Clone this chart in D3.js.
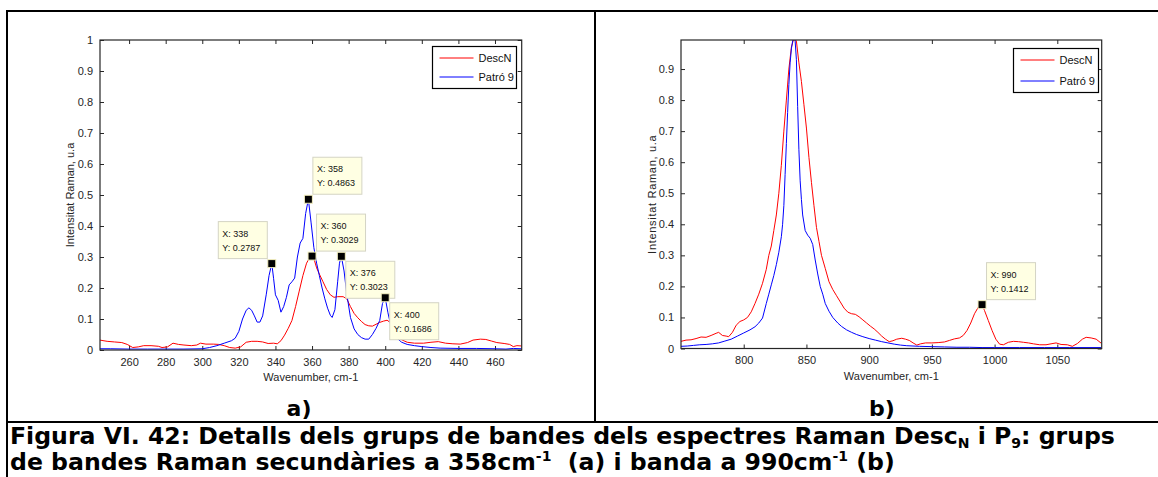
<!DOCTYPE html>
<html>
<head>
<meta charset="utf-8">
<script src="https://cdn.jsdelivr.net/npm/d3@7"></script>
<style>
  html, body { margin: 0; padding: 0; background: #fff; }
  svg { display: block; }
  .tick text { font-family: "Liberation Sans", Arial, sans-serif; font-size: 11px; fill: #262626; }
  .axlabel { font-family: "Liberation Sans", Arial, sans-serif; font-size: 11px; fill: #262626; }
  .legend text { font-family: "Liberation Sans", Arial, sans-serif; font-size: 11px; fill: #111; }
  .tip text { font-family: "Liberation Sans", Arial, sans-serif; font-size: 9px; fill: #111; }
  .panel-tag, .caption { font-family: "DejaVu Sans", Verdana, sans-serif; font-weight: bold; fill: #000; }
</style>
</head>
<body>
<svg id="fig" width="1158" height="477"></svg>
<script>
// ---- Spectra, panel a) : [wavenumber (cm-1), normalised intensity] ----
const descN_a = [
  [244,0.032],[248,0.028],[252,0.026],[256,0.024],[259,0.018],[262,0.008],[265,0.010],
  [268,0.014],[272,0.014],[276,0.012],[278,0.008],[281,0.010],[284,0.022],[287,0.018],
  [290,0.016],[294,0.014],[297,0.016],[299,0.022],[302,0.019],[306,0.019],[309,0.018],
  [312,0.014],[315,0.008],[318,0.006],[321,0.010],[324,0.025],[327,0.028],[330,0.028],
  [333,0.026],[336,0.021],[339,0.022],[341,0.020],[343,0.030],[345,0.048],[347,0.070],
  [349,0.095],[351,0.140],[353,0.190],[355,0.240],[357,0.280],[358.5,0.296],[360,0.3029],
  [361,0.295],[362.5,0.265],[364,0.245],[366,0.220],[368,0.195],[370,0.178],[372,0.170],
  [374,0.172],[377,0.172],[379,0.165],[381,0.140],[383,0.118],[385,0.104],[387,0.092],
  [389,0.082],[391,0.078],[393,0.077],[395,0.083],[397,0.089],[399,0.093],[401,0.096],
  [403,0.088],[405,0.060],[407,0.042],[409,0.033],[412,0.025],[416,0.022],[421,0.022],
  [425,0.025],[429,0.027],[433,0.022],[437,0.020],[441,0.019],[445,0.024],[448,0.032],
  [452,0.035],[455,0.034],[458,0.029],[461,0.024],[465,0.021],[468,0.018],[470,0.011],
  [472,0.014],[474.6,0.013]
];
const patro9_a = [
  [244,0.004],[250,0.004],[260,0.003],[270,0.003],[280,0.003],[290,0.003],[300,0.004],
  [304,0.008],[308,0.014],[312,0.022],[316,0.030],[318,0.038],[320,0.060],[322,0.100],
  [324,0.128],[325.5,0.136],[327,0.128],[328.5,0.110],[330,0.090],[331.5,0.090],[333,0.110],
  [335,0.180],[336.5,0.240],[338,0.2787],[339,0.230],[340,0.178],[341.5,0.160],[343,0.122],
  [344.5,0.140],[346,0.170],[347.5,0.210],[349,0.220],[350.5,0.232],[352,0.300],[353.5,0.345],
  [355,0.360],[356.5,0.440],[358,0.4863],[359.5,0.410],[361,0.330],[362.5,0.280],[364,0.240],
  [365.5,0.200],[367,0.165],[368.5,0.135],[370,0.112],[371,0.105],[372.5,0.130],[374,0.220],
  [375,0.280],[376,0.3023],[377.5,0.255],[379,0.180],[381,0.105],[383,0.068],[385,0.050],
  [387,0.040],[389,0.035],[391,0.035],[393,0.050],[395,0.070],[397,0.095],[398.5,0.150],
  [400,0.1686],[401.5,0.120],[403,0.080],[405,0.050],[407,0.035],[409,0.025],[412,0.018],
  [416,0.014],[420,0.011],[425,0.008],[430,0.006],[440,0.005],[450,0.005],[460,0.004],
  [466,0.003],[470,0.005],[474.6,0.004]
];

// ---- Spectra, panel b) ----
const descN_b = [
  [750,0.023],[754,0.027],[758,0.028],[762,0.032],[766,0.037],[770,0.036],[774,0.042],
  [778,0.049],[780,0.052],[783,0.042],[786,0.040],[788,0.038],[791,0.052],[794,0.075],
  [797,0.087],[800,0.092],[803,0.100],[806,0.118],[809,0.145],[812,0.175],[815,0.210],
  [818,0.255],[820,0.300],[822,0.330],[824,0.380],[826,0.430],[828,0.500],[830,0.590],
  [832,0.700],[834,0.800],[836,0.900],[838,0.970],[840,1.000],[842,0.990],[844,0.920],
  [846,0.860],[848,0.785],[850,0.710],[852,0.615],[854,0.535],[856,0.460],[858,0.390],
  [860,0.345],[862,0.300],[865,0.258],[868,0.215],[871,0.190],[874,0.170],[877,0.150],
  [880,0.130],[883,0.117],[886,0.112],[889,0.110],[892,0.102],[895,0.092],[898,0.082],
  [901,0.072],[904,0.063],[907,0.052],[910,0.040],[913,0.030],[916,0.022],[919,0.025],
  [922,0.030],[926,0.033],[929,0.030],[932,0.026],[935,0.018],[938,0.011],[941,0.015],
  [945,0.018],[950,0.018],[955,0.019],[960,0.021],[964,0.026],[968,0.031],[972,0.034],
  [975,0.042],[978,0.058],[981,0.082],[984,0.112],[987,0.133],[990,0.1412],[992,0.122],
  [995,0.090],[998,0.058],[1001,0.030],[1004,0.014],[1007,0.012],[1011,0.020],[1015,0.023],
  [1019,0.022],[1023,0.020],[1027,0.018],[1031,0.015],[1036,0.012],[1041,0.012],[1045,0.015],
  [1049,0.018],[1053,0.013],[1058,0.012],[1062,0.007],[1066,0.016],[1070,0.030],[1073,0.036],
  [1077,0.034],[1081,0.030],[1085,0.017]
];
const patro9_b = [
  [750,0.007],[755,0.008],[760,0.010],[765,0.012],[770,0.013],[775,0.015],[780,0.018],
  [785,0.024],[790,0.030],[795,0.040],[800,0.050],[805,0.060],[809,0.070],[812,0.082],
  [815,0.098],[818,0.145],[820,0.175],[822,0.205],[824,0.235],[826,0.270],[828,0.310],
  [830,0.360],[831,0.400],[832,0.460],[833,0.560],[834,0.660],[835,0.760],[836,0.850],
  [837,0.920],[838,0.965],[839,0.990],[840,1.000],[841,0.990],[842,0.930],[843,0.780],
  [844,0.640],[845,0.540],[846,0.480],[847,0.430],[849,0.380],[851,0.365],[853,0.355],
  [855,0.335],[857,0.285],[859,0.240],[861,0.200],[863,0.175],[865,0.145],[868,0.120],
  [871,0.100],[875,0.082],[878,0.071],[882,0.060],[886,0.052],[890,0.045],[895,0.038],
  [900,0.032],[905,0.027],[910,0.022],[915,0.018],[920,0.014],[925,0.011],[930,0.009],
  [940,0.007],[950,0.006],[960,0.005],[970,0.004],[980,0.004],[990,0.003],[1000,0.003],
  [1020,0.003],[1040,0.003],[1060,0.003],[1085,0.003]
];

// ---- Axis ranges and tick values ----
const xDomainA = [244.1, 474.6];
const xDomainB = [750, 1085.4];
const yDomainA = [0, 1];
const yDomainB = [0, 0.9935];
const xTicksA = [260, 280, 300, 320, 340, 360, 380, 400, 420, 440, 460];
const xTicksB = [800, 850, 900, 950, 1000, 1050];
const yTicksA = [0, 0.1, 0.2, 0.3, 0.4, 0.5, 0.6, 0.7, 0.8, 0.9, 1];
const yTicksB = [0, 0.1, 0.2, 0.3, 0.4, 0.5, 0.6, 0.7, 0.8, 0.9];
const yTickLabelsA = ["0", "0.1", "0.2", "0.3", "0.4", "0.5", "0.6", "0.7", "0.8", "0.9", "1"];
const yTickLabelsB = ["0", "0.1", "0.2", "0.3", "0.4", "0.5", "0.6", "0.7", "0.8", "0.9"];

// ---- Series names and data-cursor readouts [wavenumber, intensity] ----
const seriesNames = ["DescN", "Patró 9"];
const seriesColors = ["#ff0000", "#0000ff"];
const tipsA = [[338, 0.2787], [358, 0.4863], [360, 0.3029], [376, 0.3023], [400, 0.1686]];
const tipsB = [[990, 0.1412]];

const xLabel = "Wavenumber, cm-1";
const yLabel = "Intensitat Raman, u.a";
const panelTags = ["a)", "b)"];

const svg = d3.select("#fig");
svg.append("rect").attr("width", 1158).attr("height", 477).attr("fill", "#fff");

// Panel layouts (pixel boxes for each axes)
const panels = [
  { left: 100, right: 521.7, top: 40, bottom: 350,
    xDomain: xDomainA, yDomain: yDomainA, xTicks: xTicksA, yTicks: yTicksA, yTickLabels: yTickLabelsA,
    series: [descN_a, patro9_a], tips: tipsA,
    tipPlace: ["ul", "ur", "ur", "dr", "dr"],
    legend: { x: 432.5, y: 46.5, w: 84, h: 42 }, ylabelX: 70, ylabelSpacing: 0,
    tag: panelTags[0], tagX: 299 },
  { left: 681, right: 1101.7, top: 40, bottom: 348.5,
    xDomain: xDomainB, yDomain: yDomainB, xTicks: xTicksB, yTicks: yTicksB, yTickLabels: yTickLabelsB,
    series: [descN_b, patro9_b], tips: tipsB,
    tipPlace: ["ur"],
    legend: { x: 1013.5, y: 48.5, w: 85, h: 44 }, ylabelX: 652, ylabelSpacing: 0.7,
    tag: panelTags[1], tagX: 882 }
];

panels.forEach((p, pi) => {
  const x = d3.scaleLinear().domain(p.xDomain).range([p.left, p.right]);
  const y = d3.scaleLinear().domain(p.yDomain).range([p.bottom, p.top]);
  const g = svg.append("g");

  const clipId = "clip" + pi;
  svg.append("clipPath").attr("id", clipId)
    .append("rect").attr("x", p.left).attr("y", p.top)
    .attr("width", p.right - p.left).attr("height", p.bottom - p.top);

  // Bottom axis with labels, ticks pointing inward
  const xb = g.append("g").attr("transform", `translate(0,${p.bottom})`)
    .call(d3.axisBottom(x).tickValues(p.xTicks).tickSizeInner(-4).tickSizeOuter(0).tickPadding(8)
      .tickFormat(d3.format("d")));
  xb.select(".domain").remove();
  // Top axis ticks (no labels)
  const xt = g.append("g").attr("transform", `translate(0,${p.top})`)
    .call(d3.axisTop(x).tickValues(p.xTicks).tickSizeInner(-4).tickSizeOuter(0).tickFormat(""));
  xt.select(".domain").remove();
  // Left axis with labels
  const yl = g.append("g").attr("transform", `translate(${p.left},0)`)
    .call(d3.axisLeft(y).tickValues(p.yTicks).tickSizeInner(-4).tickSizeOuter(0).tickPadding(7)
      .tickFormat((d, i) => p.yTickLabels[i]));
  yl.select(".domain").remove();
  // Right axis ticks (no labels)
  const yr = g.append("g").attr("transform", `translate(${p.right},0)`)
    .call(d3.axisRight(y).tickValues(p.yTicks).tickSizeInner(-4).tickSizeOuter(0).tickFormat(""));
  yr.select(".domain").remove();
  g.selectAll(".tick line").attr("stroke", "#262626");

  // Spectra
  const line = d3.line().x(d => x(d[0])).y(d => y(d[1]));
  p.series.forEach((s, si) => {
    g.append("path").datum(s)
      .attr("clip-path", `url(#${clipId})`)
      .attr("fill", "none").attr("stroke", seriesColors[si])
      .attr("stroke-width", 1).attr("stroke-linejoin", "round")
      .attr("d", line);
  });

  // Axes box
  g.append("rect").attr("x", p.left).attr("y", p.top)
    .attr("width", p.right - p.left).attr("height", p.bottom - p.top)
    .attr("fill", "none").attr("stroke", "#262626").attr("stroke-width", 1.2);

  // Axis labels
  g.append("text").attr("class", "axlabel")
    .attr("x", (p.left + p.right) / 2).attr("y", p.bottom + 31)
    .attr("text-anchor", "middle").text(xLabel);
  g.append("text").attr("class", "axlabel")
    .attr("transform", `translate(${p.ylabelX + 4},${(p.top + p.bottom) / 2}) rotate(-90)`)
    .attr("text-anchor", "middle").attr("letter-spacing", p.ylabelSpacing)
    .text(yLabel);

  // Legend
  const lg = g.append("g").attr("class", "legend");
  lg.append("rect").attr("x", p.legend.x).attr("y", p.legend.y)
    .attr("width", p.legend.w).attr("height", p.legend.h)
    .attr("fill", "#fff").attr("stroke", "#000").attr("stroke-width", 1.2);
  seriesNames.forEach((name, si) => {
    const ly = p.legend.y + 11.5 + si * (p.legend.h - 23) ;
    lg.append("line").attr("x1", p.legend.x + 7).attr("x2", p.legend.x + 41)
      .attr("y1", ly).attr("y2", ly).attr("stroke", seriesColors[si]).attr("stroke-width", 1);
    lg.append("text").attr("x", p.legend.x + 46).attr("y", ly + 4).text(name);
  });

  // Data-cursor readouts
  p.tips.forEach((t, ti) => {
    const mx = x(t[0]), my = y(t[1]);
    const place = p.tipPlace[ti];
    const bw = 49, bh = 37;
    const bx = place.endsWith("l") ? mx - 4.5 - bw : mx + 4.5;
    const by = place.startsWith("u") ? my - 5 - bh : my + 5;
    const tg = g.append("g").attr("class", "tip");
    tg.append("rect").attr("x", bx).attr("y", by).attr("width", bw).attr("height", bh)
      .attr("fill", "#ffffe3").attr("stroke", "#d4d4c4").attr("stroke-width", 1);
    tg.append("text").attr("x", bx + 4).attr("y", by + 15).text("X: " + t[0]);
    tg.append("text").attr("x", bx + 4).attr("y", by + 29).text("Y: " + t[1]);
    tg.append("rect").attr("x", mx - 4).attr("y", my - 4).attr("width", 8).attr("height", 8)
      .attr("fill", "#000").attr("stroke", "#f4f0c0").attr("stroke-width", 1);
  });

  // Panel tag
  svg.append("text").attr("class", "panel-tag").attr("x", p.tagX).attr("y", 416)
    .attr("text-anchor", "middle").attr("font-size", 22).text(p.tag);
});

// Figure frame
const frame = svg.append("g").attr("stroke", "#000").attr("stroke-width", 2).attr("fill", "none");
frame.append("line").attr("x1", 7).attr("x2", 1158).attr("y1", 11).attr("y2", 11);
frame.append("line").attr("x1", 7).attr("x2", 7).attr("y1", 10).attr("y2", 477);
frame.append("line").attr("x1", 595).attr("x2", 595).attr("y1", 11).attr("y2", 422);
frame.append("line").attr("x1", 7).attr("x2", 1158).attr("y1", 422).attr("y2", 422);

// Caption
const capSize = 23.6;
const subSize = 14;
const cap1 = svg.append("text").attr("class", "caption").attr("font-size", capSize)
  .attr("x", 10).attr("y", 444);
cap1.append("tspan").text("Figura VI. 42: Detalls dels grups de bandes dels espectres Raman Desc");
cap1.append("tspan").attr("font-size", subSize).attr("dy", 4).text("N");
cap1.append("tspan").attr("dy", -4).text(" i P");
cap1.append("tspan").attr("font-size", subSize).attr("dy", 4).text("9");
cap1.append("tspan").attr("dy", -4).text(": grups");

const cap2 = svg.append("text").attr("class", "caption").attr("font-size", capSize)
  .attr("x", 10).attr("y", 470);
cap2.append("tspan").text("de bandes Raman secundàries a 358cm");
cap2.append("tspan").attr("font-size", subSize).attr("dy", -9).text("-1");
cap2.append("tspan").attr("dy", 9).text("\u00a0 (a) i banda a 990cm");
cap2.append("tspan").attr("font-size", subSize).attr("dy", -9).text("-1");
cap2.append("tspan").attr("dy", 9).text(" (b)");
</script>
</body>
</html>
